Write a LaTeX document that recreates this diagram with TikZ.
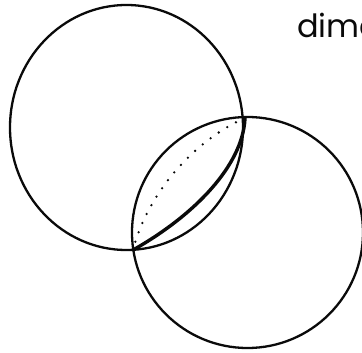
\documentclass[tikz,border=0pt]{standalone}
\usepackage{fontspec}
\newfontfamily\labelfont{Poppins}
\usetikzlibrary{shapes.geometric}
\definecolor{InkBlack}{RGB}{ 10, 10, 10}
\tikzset{
  % Hand-drawn circle outline
  ring/.style={
    draw=InkBlack, line width=2.3pt, fill=none, inner sep=0pt
  },
  % Heavy chord across the overlap
  chord/.style={
    draw=InkBlack, line width=3.4pt, line cap=round
  },
  % Dotted chord across the overlap
  dotchord/.style={
    draw=InkBlack, line width=2.6pt, line cap=round,
    dash pattern=on 0pt off 10pt
  },
  % Corner label
  cornerlabel/.style={
    font=\labelfont\fontsize{32}{36}\selectfont, text=InkBlack,
    inner sep=0pt, anchor=base west
  }
}

\begin{document}
\begin{tikzpicture}[x=1pt, y=-1pt]

  % ── Frame ────────────────────────────────────────────────────────────────
  \useasboundingbox (0,0) rectangle (362,353);
  \clip (0,0) rectangle (362,353);

  % ── The two circles ──────────────────────────────────────────────────────
  \node[ring, ellipse, minimum width=233pt, minimum height=245pt]
        (upper) at (126.5,127.5) {};
  \node[ring, circle, minimum size=231pt]
        (lower) at (247.5,232.5) {};

  % ── Meeting points of the two outlines ───────────────────────────────────
  \coordinate (meettop) at (245,118);
  \coordinate (meetbot) at (133,250);

  % ── Chords through the overlap ───────────────────────────────────────────
  \draw[chord] (meettop) .. controls (243,165) and (195,215) .. (meetbot);
  \draw[dotchord] (meettop) .. controls (195,140) and (148,192) .. (meetbot);

  % ── Label ────────────────────────────────────────────────────────────────
  \node[cornerlabel] (dimlabel) at (297,38) {dime};

\end{tikzpicture}
\end{document}
